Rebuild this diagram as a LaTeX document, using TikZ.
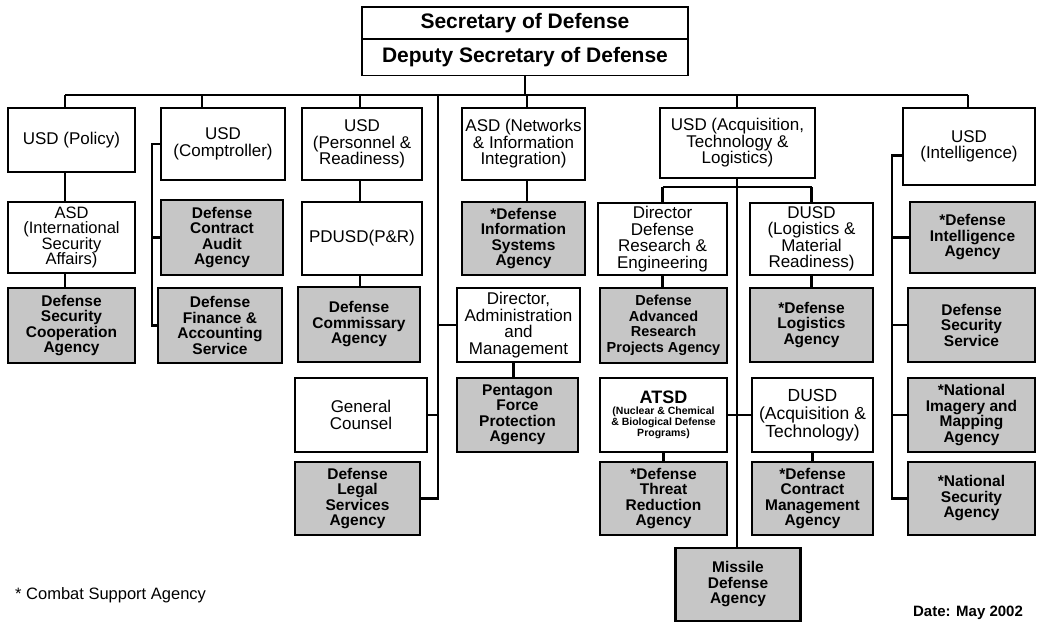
\documentclass[tikz,border=0pt]{standalone}
\usepackage{fontspec}
\setmainfont{Liberation Sans}
\usetikzlibrary{backgrounds}
\newcommand\smallatsd{\bfseries\fontsize{10.5}{11}\selectfont}
\begin{document}
\begin{tikzpicture}[x=1pt,y=-1pt,
  wbox/.style={draw, line width=1.5pt, fill=white, align=center, inner sep=1pt,
    font=\fontsize{17}{16.5}\selectfont},
  sbox/.style={draw, line width=2.5pt, fill=gray!45, align=center, inner sep=1pt,
    font=\bfseries\fontsize{15.5}{15.5}\selectfont},
  topbox/.style={draw, line width=1.5pt, fill=white, minimum width=326pt,
    font=\bfseries\fontsize{21}{22}\selectfont},
  conn/.style={line width=2.5pt},
  r2/.style={minimum height=73pt},
  r1/.style={minimum height=72pt}]
\useasboundingbox (0,0) rectangle (1042,623);

% top
\node[topbox, minimum height=32pt] (sec) at (525,23) {Secretary of Defense};
\node[topbox, minimum height=36pt] (dep) at (525,57.5) {Deputy Secretary of Defense};

% row 1
\node[wbox, minimum width=127pt, minimum height=64pt] (pol) at (71.5,140) {USD (Policy)};
\node[wbox, minimum width=124pt, r1] (comp) at (223,144) {USD\\(Comptroller)};
\node[wbox, minimum width=120pt, r1] (pr) at (362,144) {USD\\(Personnel \&\\Readiness)};
\node[wbox, minimum width=123pt, r1] (nii) at (523.5,144) {ASD (Networks\\\& Information\\Integration)};
\node[wbox, minimum width=155pt, minimum height=70pt] (atl) at (737.5,143) {USD (Acquisition,\\Technology \&\\Logistics)};
\node[wbox, minimum width=132pt, minimum height=77pt] (intel) at (969,146.5) {USD\\(Intelligence)};

% row 2
\node[wbox, minimum width=127pt, minimum height=71pt, font=\fontsize{16.5}{15.5}\selectfont] (isa) at (71.5,237.5) {ASD\\(International\\Security\\Affairs)};
\node[sbox, minimum width=122pt, minimum height=75pt] (dcaa) at (222,237.5) {Defense\\Contract\\Audit\\Agency};
\node[wbox, minimum width=120pt, r2] (pdusd) at (362,238.5) {PDUSD(P\&R)};
\node[sbox, minimum width=123pt, r2] (disa) at (523.5,238.5) {*Defense\\Information\\Systems\\Agency};
\node[wbox, minimum width=129pt, minimum height=72pt] (ddre) at (662.5,239) {Director\\Defense\\Research \&\\Engineering};
\node[wbox, minimum width=123pt, minimum height=72pt] (lmr) at (811.5,239) {DUSD\\(Logistics \&\\Material\\Readiness)};
\node[sbox, minimum width=125pt, minimum height=71pt] (dia) at (972.5,237.5) {*Defense\\Intelligence\\Agency};

% row 3
\node[sbox, minimum width=127pt, minimum height=75pt] (dsca) at (71.5,325.5) {Defense\\Security\\Cooperation\\Agency};
\node[sbox, minimum width=124pt, minimum height=75pt] (dfas) at (220,325.5) {Defense\\Finance \&\\Accounting\\Service};
\node[sbox, minimum width=122pt, minimum height=75pt] (deca) at (359,324.5) {Defense\\Commissary\\Agency};
\node[wbox, minimum width=123pt, minimum height=74pt] (dam) at (518.5,325) {Director,\\Administration\\and\\Management};
\node[sbox, minimum width=127pt, minimum height=75pt, font=\bfseries\fontsize{14.5}{15.5}\selectfont] (darpa) at (663.5,325.5) {Defense\\Advanced\\Research\\Projects Agency};
\node[sbox, minimum width=123pt, minimum height=74pt] (dla) at (811.5,325) {*Defense\\Logistics\\Agency};
\node[sbox, minimum width=127pt, minimum height=74pt] (dss) at (971.5,325) {Defense\\Security\\Service};

% row 4
\node[wbox, minimum width=132pt, minimum height=74pt] (gc) at (361,415) {General\\Counsel};
\node[sbox, minimum width=121pt, minimum height=74pt] (pfpa) at (517.5,415) {Pentagon\\Force\\Protection\\Agency};
\node[draw, line width=1.5pt, fill=white, inner sep=1pt, minimum width=127pt, minimum height=74pt, font=\smallatsd] (atsd) at (663.5,415)
  {\begin{tabular}{@{}c@{}}\fontsize{18}{20}\selectfont ATSD\\(Nuclear \& Chemical\\\& Biological Defense\\Programs)\end{tabular}};
\node[wbox, minimum width=121pt, minimum height=74pt, font=\fontsize{17.5}{18}\selectfont] (at) at (812.5,415) {DUSD\\(Acquisition \&\\Technology)};
\node[sbox, minimum width=127pt, minimum height=74pt] (nima) at (971.5,415) {*National\\Imagery and\\Mapping\\Agency};

% row 5
\node[sbox, minimum width=125pt, minimum height=73pt] (dlsa) at (357.5,498.5) {Defense\\Legal\\Services\\Agency};
\node[sbox, minimum width=127pt, minimum height=73pt] (dtra) at (663.5,498.5) {*Defense\\Threat\\Reduction\\Agency};
\node[sbox, minimum width=121pt, minimum height=73pt] (dcma) at (812.5,498.5) {*Defense\\Contract\\Management\\Agency};
\node[sbox, minimum width=127pt, minimum height=73pt] (nsa) at (971.5,498.5) {*National\\Security\\Agency};

% row 6
\node[sbox, minimum width=125pt, minimum height=73pt] (mda) at (738,584.5) {Missile\\Defense\\Agency};

% notes
\node[anchor=west, font=\fontsize{16.5}{18}\selectfont, inner sep=0pt] (note) at (15,595) {* Combat Support Agency};
\node[font=\bfseries\fontsize{15}{16}\selectfont, inner sep=0pt] (date) at (968,613) {Date: May 2002};

% bus coordinates
\coordinate (bL) at (65,95);
\coordinate (bR) at (968,95);
\coordinate (b2) at (202,95);
\coordinate (b3) at (360,95);
\coordinate (b4) at (438,95);
\coordinate (b5) at (527,95);
\coordinate (b6) at (737,95);
\coordinate (cs) at (152,0);
\coordinate (is) at (892,0);
\coordinate (as) at (0,187);

\begin{scope}[on background layer]
\fill[white] (0,0) rectangle (1042,623);
\draw[conn] (dep.south) -- (dep.south |- bL);
\draw[conn] (bL) -- (bR);
% policy column
\draw[conn] (bL) -- (bL |- pol.north);
\draw[conn] (pol.south -| bL) -- (bL |- isa.north);
\draw[conn] (isa.south -| bL) -- (bL |- dsca.north);
% comptroller
\draw[conn] (b2) -- (b2 |- comp.north);
\draw[conn] (comp.west) -- (comp.west -| cs) -- (cs |- dfas.west) -- (dfas.west);
\draw[conn] (cs |- dcaa.west) -- (dcaa.west);
% personnel & readiness
\draw[conn] (b3) -- (b3 |- pr.north);
\draw[conn] (pr.south -| b3) -- (b3 |- pdusd.north);
\draw[conn] (pdusd.south -| b3) -- (b3 |- deca.north);
% long line
\draw[conn] (b4) -- (b4 |- dlsa.east) -- (dlsa.east);
\draw[conn] (b4 |- dam.west) -- (dam.west);
\draw[conn] (b4 |- gc.east) -- (gc.east);
\draw[conn] ([xshift=-5pt]dam.south) -- ([xshift=-5pt]dam.south |- pfpa.north);
% networks
\draw[conn] (b5) -- (b5 |- nii.north);
\draw[conn] (nii.south -| b5) -- (b5 |- disa.north);
% AT&L
\draw[conn] (b6) -- (b6 |- atl.north);
\draw[conn] (atl.south -| b6) -- (b6 |- mda.north);
\draw[conn] (ddre.north |- as) -- (lmr.north |- as);
\draw[conn] (ddre.north |- as) -- (ddre.north);
\draw[conn] (lmr.north |- as) -- (lmr.north);
\draw[conn] (ddre.south) -- (ddre.south |- darpa.north);
\draw[conn] (lmr.south) -- (lmr.south |- dla.north);
\draw[conn] (atsd.east) -- (at.west);
\draw[conn] (atsd.south) -- (atsd.south |- dtra.north);
\draw[conn] (at.south) -- (at.south |- dcma.north);
% intelligence
\draw[conn] (bR) -- (bR |- intel.north);
\draw[conn] ([yshift=-9pt]intel.west) -- ([yshift=-9pt]intel.west -| is) -- (is |- nsa.west) -- (nsa.west);
\draw[conn] (is |- dia.west) -- (dia.west);
\draw[conn] (is |- dss.west) -- (dss.west);
\draw[conn] (is |- nima.west) -- (nima.west);
\end{scope}
\end{tikzpicture}
\end{document}
